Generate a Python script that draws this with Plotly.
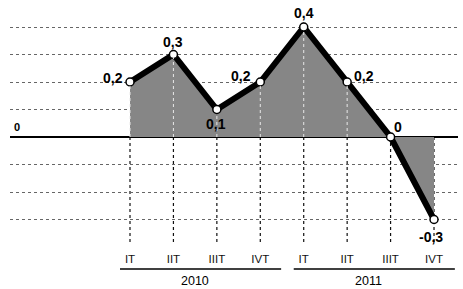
import plotly.graph_objects as go

quarters = ["IT", "IIT", "IIIT", "IVT", "IT", "IIT", "IIIT", "IVT"]
years = ["2010", "2011"]
year_spans = [(0, 3), (4, 7)]
values = [0.2, 0.3, 0.1, 0.2, 0.4, 0.2, 0.0, -0.3]
value_labels = ["0,2", "0,3", "0,1", "0,2", "0,4", "0,2", "0", "-0,3"]
grid_vals = [0.4, 0.3, 0.2, 0.1, -0.1, -0.2, -0.3]

# label offsets in px (dx, dy up)
label_offsets = [(-17, 4), (0, 13), (-1, -14), (-19, 6), (0, 14), (17, 6), (7, 10), (-3, -17)]

W, H = 463, 289
FONT = "Liberation Sans, Arial, sans-serif"
x = list(range(len(quarters)))

fig = go.Figure()
fig.add_trace(go.Scatter(
    x=x, y=values, mode="none", fill="tozeroy",
    fillcolor="#868686",
    hoverinfo="skip", showlegend=False))

shapes = []
for xi, v in zip(x, values):
    if v > 0:
        shapes.append(dict(type="line", xref="x", yref="y", x0=xi, x1=xi, y0=0, y1=v - 0.01,
                           line=dict(color="#e8e8e8", width=1, dash="dot"), layer="above"))
    shapes.append(dict(type="line", xref="x", yref="y", x0=xi, x1=xi, y0=0, y1=-0.385,
                       line=dict(color="#111", width=1.2, dash="dot"), layer="below"))

fig.add_trace(go.Scatter(
    x=x, y=values, mode="lines+markers",
    line=dict(color="black", width=6),
    marker=dict(size=8, color="white", line=dict(color="black", width=1.5)),
    hoverinfo="skip", showlegend=False))

annotations = []
for xi, v, t, (dx, dy) in zip(x, values, value_labels, label_offsets):
    annotations.append(dict(x=xi, y=v, xref="x", yref="y", text="<b>%s</b>" % t,
                            showarrow=False, xshift=dx, yshift=dy,
                            xanchor="center", yanchor="middle",
                            font=dict(family=FONT, size=14, color="black")))

# year groupings
for (a, b), yr in zip(year_spans, years):
    shapes.append(dict(type="line", xref="x", yref="paper", x0=a - 0.23, x1=b + 0.48,
                       y0=-0.093, y1=-0.093, line=dict(color="black", width=1.5)))
    annotations.append(dict(x=(a + b) / 2, y=-0.142, xref="x", yref="paper", text=yr,
                            xanchor="center", yanchor="middle",
                            showarrow=False, font=dict(family=FONT, size=12.5, color="black")))

annotations.append(dict(x=0.016, y=0, xref="paper", yref="y", text="<b>0</b>", showarrow=False,
                        xanchor="center", yanchor="middle",
                        yshift=10, font=dict(family=FONT, size=11, color="black")))

L, R = 10, 5
px_per_unit = 43.43
x0 = (L - 130) / px_per_unit
x1 = (W - R - 130) / px_per_unit
B = 43
py_per_unit = 275
y_top = 137 / py_per_unit
y_bot = -(H - B - 137) / py_per_unit

fig.update_layout(
    width=W, height=H,
    margin=dict(l=L, r=R, t=0, b=B),
    paper_bgcolor="white", plot_bgcolor="white",
    shapes=shapes, annotations=annotations,
    xaxis=dict(range=[x0, x1], tickvals=x, ticktext=quarters, showgrid=False,
               zeroline=False, showline=False, ticks="", fixedrange=True,
               ticklabelstandoff=4,
               tickfont=dict(family=FONT, size=11.5, color="#111")),
    yaxis=dict(range=[y_bot, y_top], tickvals=grid_vals, showticklabels=False,
               showgrid=True, gridcolor="#666", gridwidth=1, griddash="dot",
               zeroline=True, zerolinecolor="black", zerolinewidth=2, fixedrange=True),
)

fig.write_html("out.html", post_script="document.body.style.margin='0';",
               config={"displayModeBar": False})
